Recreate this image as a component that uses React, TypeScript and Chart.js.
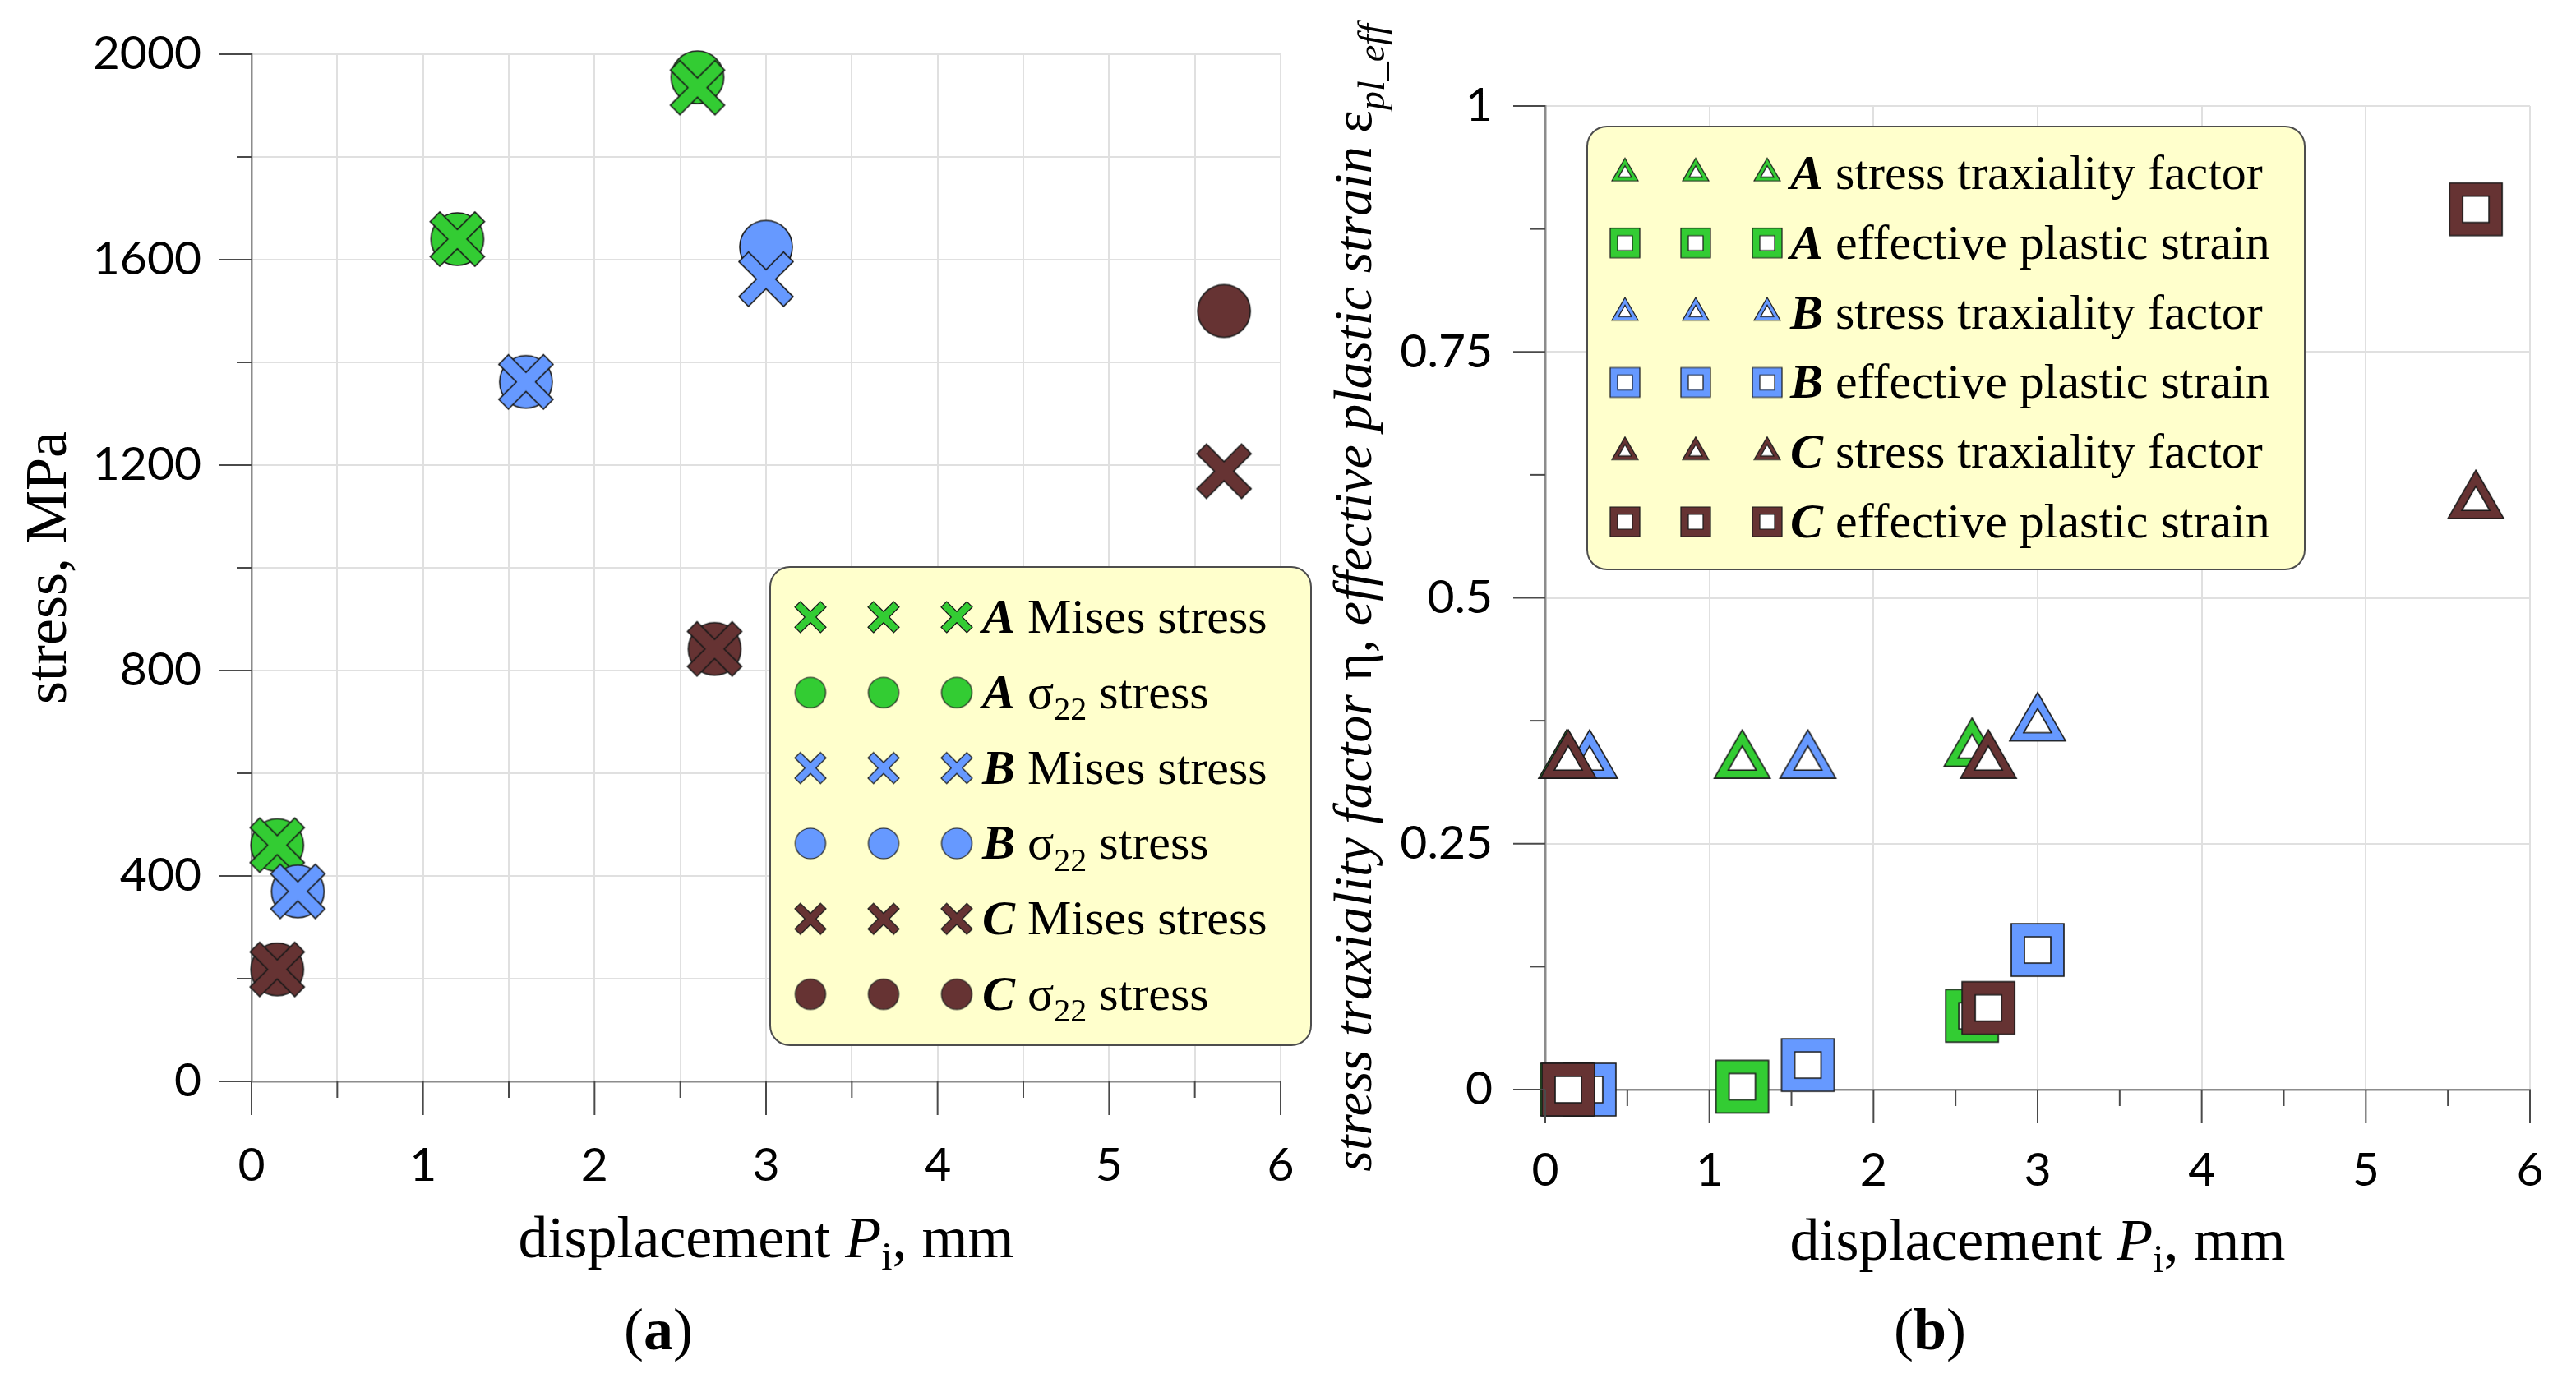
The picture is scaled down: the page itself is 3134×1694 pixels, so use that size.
import React, { useEffect, useRef } from 'react';
import { Chart, registerables } from 'chart.js';

Chart.register(...registerables);

// ---------------- data ----------------
const specimens = ['A', 'B', 'C'];
const specimenColors = ['#33cc33', '#6699ff', '#663333'];
const stressKinds = ['Mises stress', 'σ22 stress'];
const strainKinds = ['stress traxiality factor', 'effective plastic strain'];

// (a) displacement P_i [mm] vs stress [MPa]
const dispA = [0.15, 1.2, 2.6];
const dispB = [0.27, 1.6, 3.0];
const dispC = [0.15, 2.7, 5.67];
const misesA = [460, 1640, 1935];
const misesB = [370, 1362, 1562];
const misesC = [218, 842, 1188];
const s22A = [460, 1640, 1955];
const s22B = [370, 1362, 1625];
const s22C = [218, 842, 1500];

// (b) displacement P_i [mm] vs triaxiality / effective plastic strain
const dispAb = [0.13, 1.2, 2.6];
const dispBb = [0.27, 1.6, 3.0];
const dispCb = [0.14, 2.7, 5.67];
const triaxA = [0.333, 0.333, 0.345];
const triaxB = [0.333, 0.333, 0.371];
const triaxC = [0.333, 0.333, 0.597];
const plA = [0, 0.003, 0.075];
const plB = [0, 0.025, 0.142];
const plC = [0, 0.083, 0.895];

// tick labels
const stressXTickLabels = ['0', '1', '2', '3', '4', '5', '6'];
const stressYTickLabels = ['0', '400', '800', '1200', '1600', '2000'];
const strainXTickLabels = ['0', '1', '2', '3', '4', '5', '6'];
const strainYTickLabels = ['0', '0.25', '0.5', '0.75', '1'];

// ---------------- styling helpers ----------------
const SERIF = '"Liberation Serif", "Times New Roman", serif';
const TICKFONT = 'Lato, "Open Sans", sans-serif';
const GRID = '#e0e0e0';
const AXIS = '#8c8c8c';
const TICK = '#4a4a4a';

function markerCanvas(kind: string, color: string, size: number): HTMLCanvasElement {
  const c = document.createElement('canvas');
  const pad = 3;
  const w = size + pad * 2;
  let h = size + pad * 2;
  const th = (size * Math.sqrt(3)) / 2;
  if (kind === 'triangle') h = Math.ceil((th * 4) / 3) + pad * 2;
  c.width = Math.ceil(w);
  c.height = Math.ceil(h);
  const g = c.getContext('2d') as CanvasRenderingContext2D;
  const cx = c.width / 2;
  const cy = c.height / 2;
  g.lineWidth = size > 45 ? 1.6 : 1.2;
  g.strokeStyle = '#1a1a1a';
  g.lineJoin = 'miter';
  g.fillStyle = color;
  if (kind === 'circle') {
    g.beginPath();
    g.arc(cx, cy, size / 2, 0, Math.PI * 2);
    g.fill();
    g.stroke();
  } else if (kind === 'cross') {
    const e = size / 2;
    const aw = size * 0.125;
    const L = e * Math.SQRT2 - aw;
    const pts = [
      [aw, L], [aw, aw], [L, aw], [L, -aw], [aw, -aw], [aw, -L],
      [-aw, -L], [-aw, -aw], [-L, -aw], [-L, aw], [-aw, aw], [-aw, L],
    ];
    const r = Math.PI / 4;
    g.beginPath();
    pts.forEach(([px, py], i) => {
      const x = cx + px * Math.cos(r) - py * Math.sin(r);
      const y = cy + px * Math.sin(r) + py * Math.cos(r);
      if (i === 0) g.moveTo(x, y);
      else g.lineTo(x, y);
    });
    g.closePath();
    g.fill();
    g.stroke();
  } else if (kind === 'triangle') {
    const tri = (s: number) => {
      const t = (s * Math.sqrt(3)) / 2;
      g.beginPath();
      g.moveTo(cx, cy - (2 * t) / 3);
      g.lineTo(cx + s / 2, cy + t / 3);
      g.lineTo(cx - s / 2, cy + t / 3);
      g.closePath();
    };
    tri(size);
    g.fill();
    g.stroke();
    tri(size * 0.5);
    g.fillStyle = '#ffffff';
    g.fill();
    g.stroke();
  } else if (kind === 'square') {
    g.beginPath();
    g.rect(cx - size / 2, cy - size / 2, size, size);
    g.fill();
    g.stroke();
    g.beginPath();
    g.rect(cx - size / 4, cy - size / 4, size / 2, size / 2);
    g.fillStyle = '#ffffff';
    g.fill();
    g.stroke();
  }
  return c;
}

type Seg = { t: string; f: string; dy?: number };

function drawRich(
  ctx: CanvasRenderingContext2D,
  segs: Seg[],
  x: number,
  y: number,
  rot: number,
  align: 'center' | 'left'
) {
  ctx.save();
  ctx.translate(x, y);
  ctx.rotate(rot);
  ctx.textAlign = 'left';
  ctx.textBaseline = 'alphabetic';
  ctx.fillStyle = '#000';
  const widths = segs.map((s) => {
    ctx.font = s.f;
    return ctx.measureText(s.t).width;
  });
  const total = widths.reduce((a, b) => a + b, 0);
  let cx = align === 'center' ? -total / 2 : 0;
  segs.forEach((s, i) => {
    ctx.font = s.f;
    ctx.fillText(s.t, cx, s.dy || 0);
    cx += widths[i];
  });
  ctx.restore();
}

function legendSegs(label: string, size: number): Seg[] {
  const letter = label[0];
  const rest = label.slice(1);
  const reg = `${size}px ${SERIF}`;
  const segs: Seg[] = [{ t: letter, f: `italic bold ${size}px ${SERIF}` }];
  const m = rest.match(/^(.*σ)(\d+)(.*)$/);
  if (m) {
    segs.push({ t: m[1], f: reg });
    segs.push({ t: m[2], f: `${Math.round(size * 0.66)}px ${SERIF}`, dy: size * 0.24 });
    segs.push({ t: m[3], f: reg });
  } else {
    segs.push({ t: rest, f: reg });
  }
  return segs;
}

function roundBox(ctx: CanvasRenderingContext2D, x: number, y: number, w: number, h: number, r: number) {
  ctx.beginPath();
  ctx.moveTo(x + r, y);
  ctx.lineTo(x + w - r, y);
  ctx.arcTo(x + w, y, x + w, y + r, r);
  ctx.lineTo(x + w, y + h - r);
  ctx.arcTo(x + w, y + h, x + w - r, y + h, r);
  ctx.lineTo(x + r, y + h);
  ctx.arcTo(x, y + h, x, y + h - r, r);
  ctx.lineTo(x, y + r);
  ctx.arcTo(x, y, x + r, y, r);
  ctx.closePath();
  ctx.fillStyle = '#ffffcc';
  ctx.fill();
  ctx.strokeStyle = '#4d4d4d';
  ctx.lineWidth = 2;
  ctx.stroke();
}

type LegendItem = { label: string; icon: HTMLCanvasElement };

function drawLegend(
  ctx: CanvasRenderingContext2D,
  items: LegendItem[],
  box: { x: number; y: number; w: number; h: number },
  rowY0: number,
  rowStep: number,
  iconXs: number[],
  textX: number,
  fontSize: number
) {
  ctx.save();
  roundBox(ctx, box.x, box.y, box.w, box.h, 24);
  items.forEach((it, i) => {
    const cy = rowY0 + i * rowStep;
    iconXs.forEach((ix) => {
      ctx.drawImage(it.icon, ix - it.icon.width / 2, cy - it.icon.height / 2);
    });
    drawRich(ctx, legendSegs(it.label, fontSize), textX, cy + 19, 0, 'left');
  });
  ctx.restore();
}

function drawTicks(
  ctx: CanvasRenderingContext2D,
  chart: any,
  yStep: number,
  yMajor: number,
  xStep: number,
  xMajor: number
) {
  const xs = chart.scales.x;
  const ys = chart.scales.y;
  const area = chart.chartArea;
  ctx.save();
  ctx.strokeStyle = TICK;
  ctx.lineWidth = 2;
  const isMul = (v: number, m: number) => Math.abs(v / m - Math.round(v / m)) < 1e-6;
  for (let v = ys.min; v <= ys.max + 1e-9; v += yStep) {
    const p = ys.getPixelForValue(v);
    const len = isMul(v, yMajor) ? 39 : 18;
    ctx.beginPath();
    ctx.moveTo(area.left - len, p);
    ctx.lineTo(area.left, p);
    ctx.stroke();
  }
  for (let v = xs.min; v <= xs.max + 1e-9; v += xStep) {
    const p = xs.getPixelForValue(v);
    const len = isMul(v, xMajor) ? 41 : 20;
    ctx.beginPath();
    ctx.moveTo(p, area.bottom);
    ctx.lineTo(p, area.bottom + len);
    ctx.stroke();
  }
  ctx.restore();
}

function pts(xs: number[], ys: number[]) {
  return xs.map((x, i) => ({ x, y: ys[i] }));
}

function xTitleSegs(): Seg[] {
  return [
    { t: 'displacement ', f: `72px ${SERIF}` },
    { t: 'P', f: `italic 72px ${SERIF}` },
    { t: 'i', f: `48px ${SERIF}`, dy: 15 },
    { t: ', mm', f: `72px ${SERIF}` },
  ];
}

function panelSegs(letter: string): Seg[] {
  return [
    { t: '(', f: `72px ${SERIF}` },
    { t: letter, f: `bold 72px ${SERIF}` },
    { t: ')', f: `72px ${SERIF}` },
  ];
}

function zeroPad(s: any) {
  s.paddingTop = 0;
  s.paddingBottom = 0;
  s.paddingLeft = 0;
  s.paddingRight = 0;
}

export default function App() {
  const leftRef = useRef<HTMLCanvasElement>(null);
  const rightRef = useRef<HTMLCanvasElement>(null);

  useEffect(() => {
    const dispsA = [dispA, dispB, dispC];
    const misesAll = [misesA, misesB, misesC];
    const s22All = [s22A, s22B, s22C];
    const dispsB = [dispAb, dispBb, dispCb];
    const triaxAll = [triaxA, triaxB, triaxC];
    const plAll = [plA, plB, plC];

    // ---------- chart (a) ----------
    const setsA: any[] = [];
    const legendA: LegendItem[] = [];
    specimens.forEach((sp, si) => {
      const col = specimenColors[si];
      setsA.push({
        label: `${sp} ${stressKinds[0]}`,
        data: pts(dispsA[si], misesAll[si]),
        pointStyle: markerCanvas('cross', col, 66),
        pointRadius: 30,
        order: (2 - si) * 2,
        clip: false,
      });
      setsA.push({
        label: `${sp} ${stressKinds[1]}`,
        data: pts(dispsA[si], s22All[si]),
        pointStyle: markerCanvas('circle', col, 64),
        pointRadius: 30,
        order: (2 - si) * 2 + 1,
        clip: false,
      });
      legendA.push({ label: `${sp} ${stressKinds[0]}`, icon: markerCanvas('cross', col, 38) });
      legendA.push({ label: `${sp} ${stressKinds[1]}`, icon: markerCanvas('circle', col, 37) });
    });

    const pluginA = {
      id: 'decorA',
      afterDraw(chart: any) {
        const ctx = chart.ctx as CanvasRenderingContext2D;
        const area = chart.chartArea;
        drawTicks(ctx, chart, 200, 400, 0.5, 1);
        drawRich(ctx, xTitleSegs(), (area.left + area.right) / 2, 1530, 0, 'center');
        drawRich(
          ctx,
          [{ t: 'stress, MPa', f: `72px ${SERIF}` }],
          80,
          (area.top + area.bottom) / 2,
          -Math.PI / 2,
          'center'
        );
        drawRich(ctx, panelSegs('a'), 801, 1642, 0, 'center');
        drawLegend(
          ctx,
          legendA,
          { x: 937, y: 690, w: 658, h: 582 },
          751,
          91.8,
          [986, 1075, 1164],
          1195,
          60
        );
      },
    };

    const tickFont = { family: TICKFONT, size: 57 };

    const chartA = new Chart(leftRef.current as HTMLCanvasElement, {
      type: 'scatter',
      data: { datasets: setsA },
      options: {
        animation: false,
        responsive: false,
        events: [],
        layout: { padding: { top: 66, right: 42, left: 0, bottom: 0 } },
        plugins: { legend: { display: false }, tooltip: { enabled: false } },
        scales: {
          x: {
            type: 'linear',
            min: 0,
            max: 6,
            ticks: {
              stepSize: 0.5,
              autoSkip: false,
              maxRotation: 0,
              padding: 68,
              color: '#000',
              font: tickFont,
              callback: (v: any) => {
                const s = String(v);
                return stressXTickLabels.includes(s) ? s : '';
              },
            },
            grid: { color: GRID, lineWidth: 2, drawTicks: false },
            border: { color: AXIS, width: 2.5 },
            afterFit: (s: any) => {
              s.height = 378;
              zeroPad(s);
            },
          },
          y: {
            type: 'linear',
            min: 0,
            max: 2000,
            ticks: {
              stepSize: 200,
              autoSkip: false,
              padding: 61,
              color: '#000',
              font: tickFont,
              callback: (v: any) => {
                const s = String(v);
                return stressYTickLabels.includes(s) ? s : '';
              },
            },
            grid: { color: GRID, lineWidth: 2, drawTicks: false },
            border: { color: AXIS, width: 2.5 },
            afterFit: (s: any) => {
              s.width = 306;
              zeroPad(s);
            },
          },
        },
      } as any,
      plugins: [pluginA],
    });

    // ---------- chart (b) ----------
    const setsB: any[] = [];
    const legendB: LegendItem[] = [];
    specimens.forEach((sp, si) => {
      const col = specimenColors[si];
      setsB.push({
        label: `${sp} ${strainKinds[0]}`,
        data: pts(dispsB[si], triaxAll[si]),
        pointStyle: markerCanvas('triangle', col, 68),
        pointRadius: 30,
        order: (2 - si) * 2,
        clip: false,
      });
      setsB.push({
        label: `${sp} ${strainKinds[1]}`,
        data: pts(dispsB[si], plAll[si]),
        pointStyle: markerCanvas('square', col, 64),
        pointRadius: 30,
        order: (2 - si) * 2 + 1,
        clip: false,
      });
      legendB.push({ label: `${sp} ${strainKinds[0]}`, icon: markerCanvas('triangle', col, 32) });
      legendB.push({ label: `${sp} ${strainKinds[1]}`, icon: markerCanvas('square', col, 36) });
    });

    const pluginB = {
      id: 'decorB',
      afterDraw(chart: any) {
        const ctx = chart.ctx as CanvasRenderingContext2D;
        const area = chart.chartArea;
        drawTicks(ctx, chart, 0.125, 0.25, 0.5, 1);
        drawRich(ctx, xTitleSegs(), (area.left + area.right) / 2, 1533, 0, 'center');
        drawRich(
          ctx,
          [
            { t: 'stress traxiality factor ', f: `italic 66px ${SERIF}` },
            { t: 'η, ', f: `66px ${SERIF}` },
            { t: 'effective plastic strain ', f: `italic 66px ${SERIF}` },
            { t: 'ε', f: `66px ${SERIF}` },
            { t: 'pl_eff', f: `italic 46px ${SERIF}`, dy: 16 },
          ],
          68,
          (area.top + area.bottom) / 2,
          -Math.PI / 2,
          'center'
        );
        drawRich(ctx, panelSegs('b'), 748, 1642, 0, 'center');
        drawLegend(
          ctx,
          legendB,
          { x: 331, y: 154, w: 873, h: 539 },
          211,
          84.8,
          [377, 463, 550],
          578,
          60
        );
      },
    };

    const chartB = new Chart(rightRef.current as HTMLCanvasElement, {
      type: 'scatter',
      data: { datasets: setsB },
      options: {
        animation: false,
        responsive: false,
        events: [],
        layout: { padding: { top: 129, right: 56, left: 0, bottom: 0 } },
        plugins: { legend: { display: false }, tooltip: { enabled: false } },
        scales: {
          x: {
            type: 'linear',
            min: 0,
            max: 6,
            ticks: {
              stepSize: 1,
              autoSkip: false,
              maxRotation: 0,
              padding: 64,
              color: '#000',
              font: tickFont,
              callback: (v: any) => {
                const s = String(v);
                return strainXTickLabels.includes(s) ? s : '';
              },
            },
            grid: { color: GRID, lineWidth: 2, drawTicks: false },
            border: { color: AXIS, width: 2.5 },
            afterFit: (s: any) => {
              s.height = 368;
              zeroPad(s);
            },
          },
          y: {
            type: 'linear',
            min: 0,
            max: 1,
            ticks: {
              stepSize: 0.25,
              autoSkip: false,
              padding: 64,
              color: '#000',
              font: tickFont,
              callback: (v: any) => {
                const s = String(v);
                return strainYTickLabels.includes(s) ? s : '';
              },
            },
            grid: { color: GRID, lineWidth: 2, drawTicks: false },
            border: { color: AXIS, width: 2.5 },
            afterFit: (s: any) => {
              s.width = 280;
              zeroPad(s);
            },
          },
        },
      } as any,
      plugins: [pluginB],
    });

    return () => {
      chartA.destroy();
      chartB.destroy();
    };
  }, []);

  return (
    <div
      style={{
        position: 'absolute',
        left: 0,
        top: 0,
        width: 3134,
        height: 1694,
        background: '#ffffff',
        overflow: 'hidden',
      }}
    >
      <canvas
        ref={leftRef}
        width={1600}
        height={1694}
        style={{ position: 'absolute', left: 0, top: 0, width: 1600, height: 1694 }}
      />
      <canvas
        ref={rightRef}
        width={1534}
        height={1694}
        style={{ position: 'absolute', left: 1600, top: 0, width: 1534, height: 1694 }}
      />
    </div>
  );
}
